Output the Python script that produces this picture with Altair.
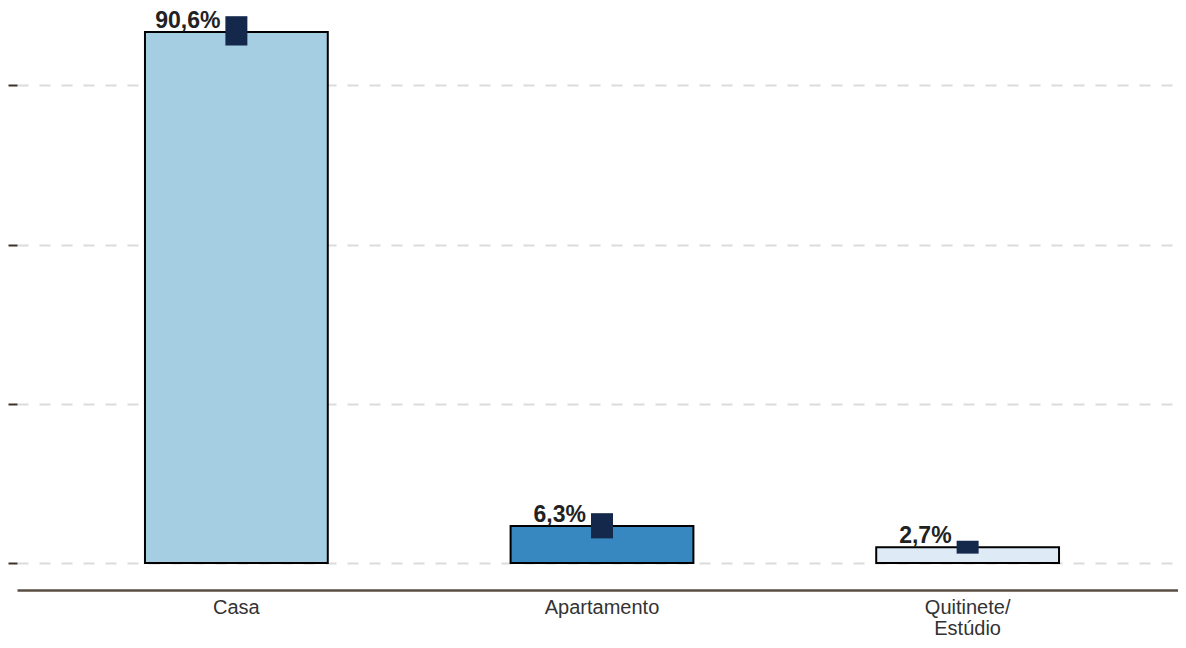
import altair as alt
import pandas as pd

categories = ["Casa", "Apartamento", "Quitinete/Estúdio"]
values = [90.6, 6.3, 2.7]
ci_low = [88.3, 4.2, 1.6]
ci_high = [93.3, 8.5, 3.8]
labels = ["90,6%", "6,3%", "2,7%"]
colors = ["#a6cee3", "#3787c0", "#deebf7"]
grid_values = [0, 27.17, 54.34, 81.5]

df = pd.DataFrame({
    "cat": categories,
    "value": values,
    "lo": ci_low,
    "hi": ci_high,
    "label": labels,
})

FONT = "Liberation Sans"

x = alt.X(
    "cat:N",
    sort=categories,
    title=None,
    scale=alt.Scale(paddingInner=0.5, paddingOuter=0.35, range=[0, 1170]),
    axis=alt.Axis(
        labelAngle=0,
        labelFont=FONT,
        labelFontSize=20,
        labelColor="#333333",
        labelPadding=7,
        labelLineHeight=21,
        labelExpr="split(replace(datum.label, '/', '/|'), '|')",
        ticks=False,
        domain=True,
        domainColor="#5a4e42",
        domainWidth=2.5,
        offset=27,
        grid=False,
    ),
)

y_scale = alt.Scale(domain=[0, 94.7], nice=False, zero=True)

bars = alt.Chart(df).mark_bar(stroke="black", strokeWidth=2).encode(
    x=x,
    y=alt.Y(
        "value:Q",
        scale=y_scale,
        title=None,
        axis=alt.Axis(
            values=grid_values,
            labels=False,
            domain=False,
            ticks=True,
            tickSize=9,
            tickColor="#3d3228",
            tickWidth=2,
            grid=True,
            gridColor="#dcdcdc",
            gridDash=[11, 11],
            gridWidth=2,
        ),
    ),
    color=alt.Color("cat:N", scale=alt.Scale(domain=categories, range=colors), legend=None),
)

ci = alt.Chart(df).mark_bar(size=22, color="#14284b").encode(
    x=alt.X("cat:N", sort=categories),
    y=alt.Y("lo:Q", scale=y_scale),
    y2="hi:Q",
)

text = alt.Chart(df).mark_text(
    align="right",
    baseline="alphabetic",
    dx=-16,
    dy=-4,
    font=FONT,
    fontSize=23,
    fontWeight="bold",
    color="#222222",
).encode(
    x=alt.X("cat:N", sort=categories),
    y=alt.Y("value:Q", scale=y_scale),
    text="label:N",
)

chart = (
    alt.layer(bars, ci, text)
    .properties(
        width=1161,
        height=555,
        padding={"left": 9, "top": 0, "right": 0, "bottom": 75},
        autosize=alt.AutoSizeParams(type="none"),
        view=alt.ViewBackground(strokeWidth=0),
    )
    .configure_view(strokeWidth=0)
    .configure(background="white")
)

chart.save("out.html", embed_options={"renderer": "svg", "actions": False})
